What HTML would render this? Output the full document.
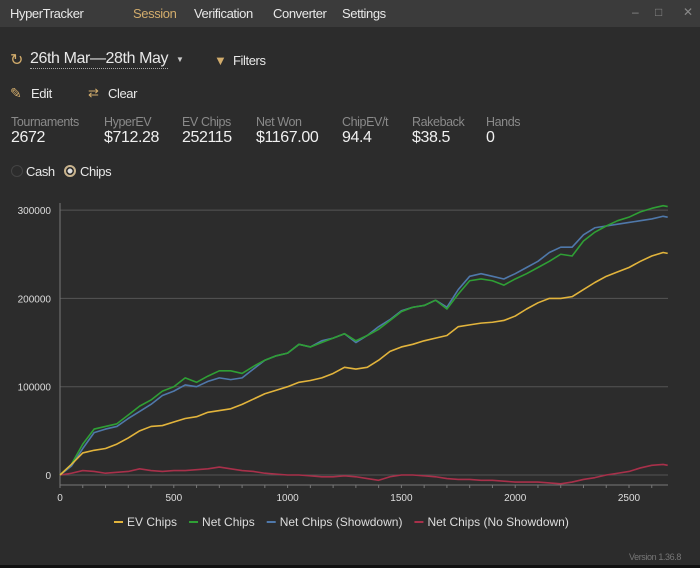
<!DOCTYPE html>
<html><head><meta charset="utf-8">
<style>
body{margin:0;width:700px;height:568px;background:#2c2c2c;font-family:"Liberation Sans",sans-serif;color:#e8e8e8;overflow:hidden;position:relative}
.t{position:absolute;white-space:nowrap;letter-spacing:-0.4px}
#bar{position:absolute;left:0;top:0;width:700px;height:27px;background:#3b3b3b}
.lbl{color:#8a8a8a;font-size:12.5px}
.val{color:#f0f0f0;font-size:16px}
</style></head><body>
<div id="bar"></div>
<div class="t" style="left:10px;top:6px;font-size:13px">HyperTracker</div>
<div class="t" style="left:133px;top:6px;font-size:13px;color:#d2ac6c">Session</div>
<div class="t" style="left:194px;top:6px;font-size:13px">Verification</div>
<div class="t" style="left:273px;top:6px;font-size:13px">Converter</div>
<div class="t" style="left:342px;top:6px;font-size:13px">Settings</div>
<div class="t" style="left:632px;top:5px;font-size:12px;color:#888">–</div>
<div class="t" style="left:655px;top:5px;font-size:12px;color:#888">□</div>
<div class="t" style="left:683px;top:5px;font-size:12px;color:#888">✕</div>

<div class="t" style="left:10px;top:50px;font-size:16px;color:#d2ac6c">↻</div>
<div class="t" style="left:30px;top:50px;font-size:16px;border-bottom:1px dotted #aaa;line-height:18px">26th Mar—28th May</div>
<div class="t" style="left:176px;top:55px;font-size:8px;color:#ccc">▼</div>
<div class="t" style="left:214px;top:53px;font-size:13px;color:#d2ac6c">▼</div>
<div class="t" style="left:233px;top:53px;font-size:13px">Filters</div>
<div class="t" style="left:10px;top:85px;font-size:14px;color:#d2ac6c">✎</div>
<div class="t" style="left:31px;top:86px;font-size:13px">Edit</div>
<div class="t" style="left:88px;top:85px;font-size:13px;color:#d2ac6c">⇄</div>
<div class="t" style="left:108px;top:86px;font-size:13px">Clear</div>

<div class="t lbl" style="left:11px;top:115px">Tournaments</div>
<div class="t val" style="left:11px;top:129px">2672</div>
<div class="t lbl" style="left:104px;top:115px">HyperEV</div>
<div class="t val" style="left:104px;top:129px">$712.28</div>
<div class="t lbl" style="left:182px;top:115px">EV Chips</div>
<div class="t val" style="left:182px;top:129px">252115</div>
<div class="t lbl" style="left:256px;top:115px">Net Won</div>
<div class="t val" style="left:256px;top:129px">$1167.00</div>
<div class="t lbl" style="left:342px;top:115px">ChipEV/t</div>
<div class="t val" style="left:342px;top:129px">94.4</div>
<div class="t lbl" style="left:412px;top:115px">Rakeback</div>
<div class="t val" style="left:412px;top:129px">$38.5</div>
<div class="t lbl" style="left:486px;top:115px">Hands</div>
<div class="t val" style="left:486px;top:129px">0</div>

<div class="t" style="left:11px;top:165px;width:10px;height:10px;border:1px solid #444;border-radius:50%"></div>
<div class="t" style="left:26px;top:164px;font-size:13px">Cash</div>
<div class="t" style="left:64px;top:165px;width:8px;height:8px;border:2px solid #c9b48e;border-radius:50%;background:radial-gradient(#ddd 40%,#2c2c2c 45%)"></div>
<div class="t" style="left:80px;top:164px;font-size:13px">Chips</div>

<svg id="chart" width="700" height="568" style="position:absolute;left:0;top:0"></svg>
<div class="t" style="left:629px;top:552px;font-size:9px;color:#777">Version 1.36.8</div>
<div style="position:absolute;left:0;top:565px;width:700px;height:3px;background:#111"></div>

<script>
const xs=[0,50,100,150,200,250,300,350,400,450,500,550,600,650,700,750,800,850,900,950,1000,1050,1100,1150,1200,1250,1300,1350,1400,1450,1500,1550,1600,1650,1700,1750,1800,1850,1900,1950,2000,2050,2100,2150,2200,2250,2300,2350,2400,2450,2500,2550,2600,2650,2670];
const evChips=[0,12,25,28,30,35,42,50,55,56,60,64,66,71,73,75,80,86,92,96,100,105,107,110,115,122,120,122,130,140,145,148,152,155,158,168,170,172,173,175,180,188,195,200,200,202,210,218,225,230,235,242,248,252,251];
const netChips=[0,12,35,52,55,58,68,78,85,95,100,110,105,112,118,118,115,123,130,135,138,148,145,150,155,160,152,158,165,175,185,190,192,198,188,205,220,222,220,215,222,228,235,242,250,248,265,275,282,288,292,298,302,305,304];
const netShowdown=[0,10,30,48,52,55,64,72,80,90,95,102,100,106,110,108,110,120,130,135,138,148,145,152,155,160,150,158,168,176,186,190,192,198,190,210,225,228,225,222,228,235,242,252,258,258,272,280,282,284,286,288,290,293,292];
const netNoShowdown=[0,2,5,4,2,3,4,7,5,4,5,5,6,7,9,7,5,4,2,1,0,0,-1,-2,-2,-1,-2,-4,-6,-2,0,0,-1,-2,-4,-5,-5,-6,-6,-7,-8,-8,-8,-9,-10,-8,-5,-3,0,2,4,8,11,12,11];
const yTicks=[0,100000,200000,300000];
const xTicks=[0,500,1000,1500,2000,2500];
const series=[["EV Chips",evChips,"#e2b43c"],["Net Chips",netChips,"#2f9f35"],["Net Chips (Showdown)",netShowdown,"#4f78aa"],["Net Chips (No Showdown)",netNoShowdown,"#a8304a"]];
const NS="http://www.w3.org/2000/svg";
const svg=document.getElementById('chart');
const X=v=>60+v*0.2276, Y=v=>475-v*0.000883;
function mk(t,a){const e=document.createElementNS(NS,t);for(const k in a)e.setAttribute(k,a[k]);svg.appendChild(e);return e;}
yTicks.forEach(t=>{
 const g=mk('line',{x1:60,x2:668,y1:Y(t),y2:Y(t),stroke:'#555','stroke-width':1});
 
 
 const l=mk('text',{x:51,y:Y(t)+4,fill:'#ddd','font-size':10,'text-anchor':'end','font-family':'Liberation Sans'});
 l.textContent=t;
 
 
});
const ax=mk('line',{x1:60,x2:668,y1:485,y2:485,stroke:'#777'});


const ay=mk('line',{x1:60,x2:60,y1:203,y2:485,stroke:'#777'});


for(let v=0;v<=2650;v+=100){const tk=mk('line',{x1:X(v),x2:X(v),y1:485,y2:488,stroke:'#777'});
 
 }
xTicks.forEach(t=>{
 const l=mk('text',{x:X(t),y:501,fill:'#ddd','font-size':10,'text-anchor':'middle','font-family':'Liberation Sans'});
 l.textContent=t;
 
 
});
[...series].reverse().forEach(s=>{
 const p=mk('polyline',{points:xs.map((x,i)=>X(x)+','+Y(s[1][i]*1000)).join(' '),fill:'none',stroke:s[2],'stroke-width':1.6,'stroke-linejoin':'round'});
 
 
});
let lx=114;
series.forEach(s=>{
 const m=mk('line',{x1:lx,x2:lx+9,y1:522,y2:522,stroke:s[2],'stroke-width':2});
 
 
 const t=mk('text',{x:lx+13,y:526,fill:'#ddd','font-size':12,'font-family':'Liberation Sans'});
 t.textContent=s[0];
 
 
 lx+=13+t.getComputedTextLength()+12;
});
</script>
</body></html>
